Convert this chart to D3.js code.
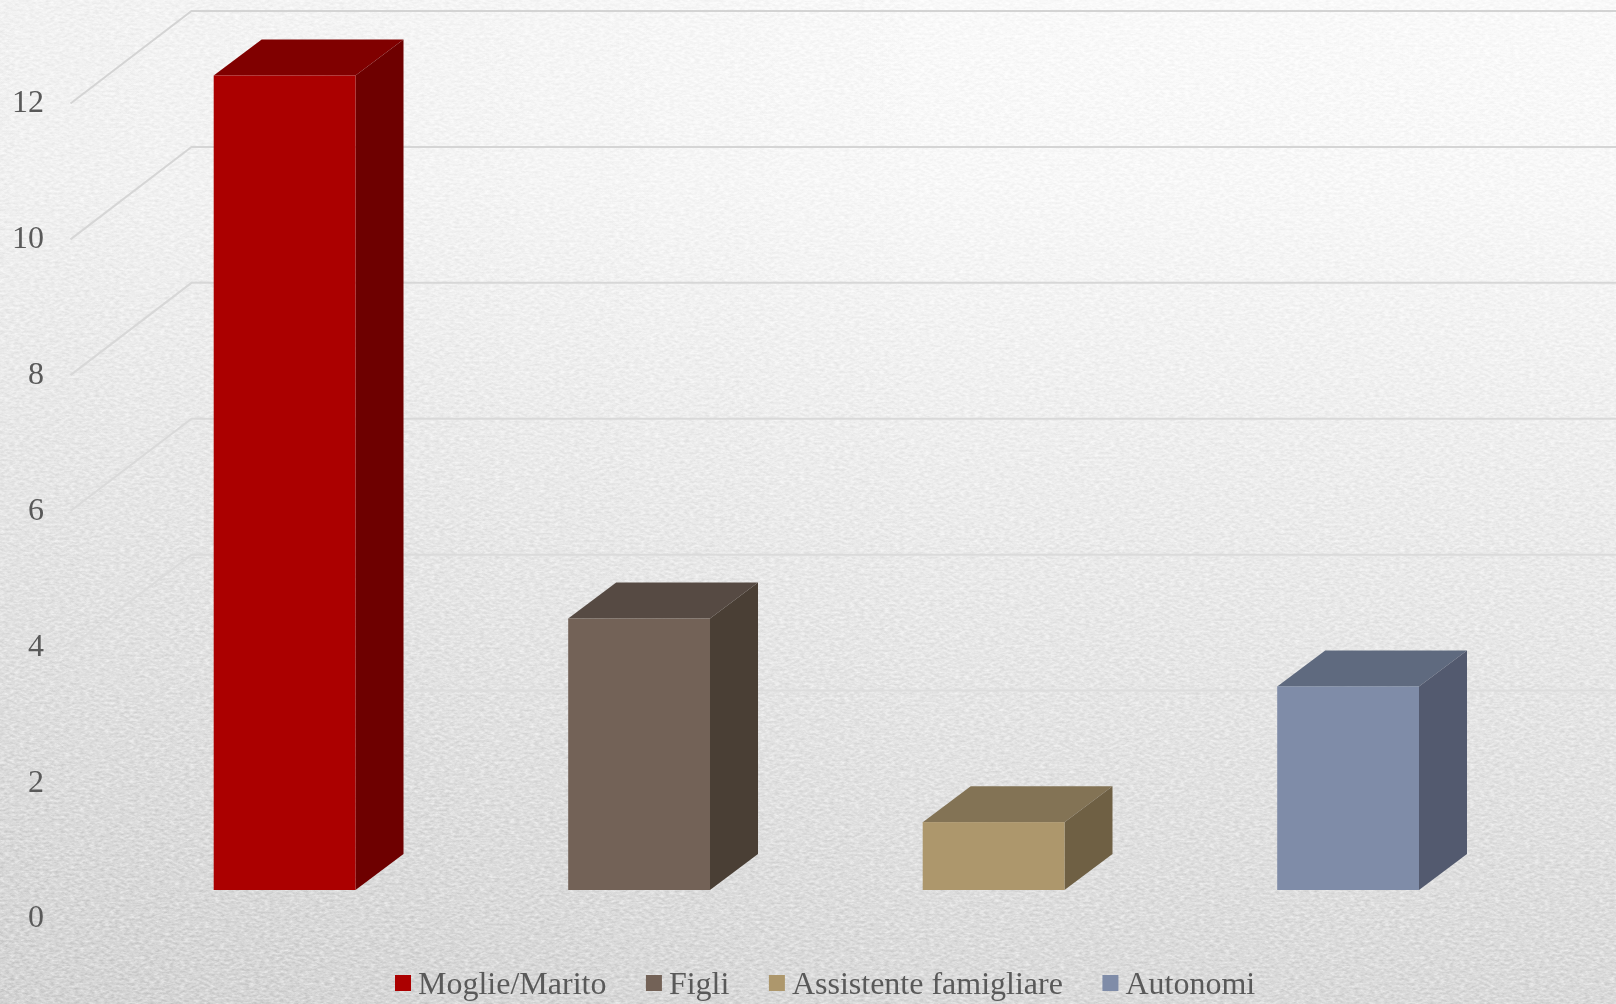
<!DOCTYPE html>
<html>
<head>
<meta charset="utf-8">
<script src="https://cdn.jsdelivr.net/npm/d3@7"></script>
<style>
  html, body { margin: 0; padding: 0; background: #e6e6e6; }
  svg { display: block; }
  text { font-family: "Liberation Serif", "Times New Roman", serif; fill: #595959; }
</style>
</head>
<body>
<svg id="chart" width="1616" height="1004"></svg>
<script>
// Caregiver categories and their counts
const categories = ["Moglie/Marito", "Figli", "Assistente famigliare", "Autonomi"];
const counts = [12, 4, 1, 3];
const yTicks = [0, 2, 4, 6, 8, 10, 12];

// Face shades per category
const frontColors = ["#ab0000", "#736257", "#ad976c", "#7f8ca8"];
const topColors = ["#800000", "#564a43", "#837355", "#5f6a7f"];
const sideColors = ["#6e0000", "#4a3f35", "#6f6044", "#535a6f"];

const W = 1616, H = 1004;
const svg = d3.select("#chart");
const defs = svg.append("defs");

// Page background: pale at the top, darker towards the floor
const bg = defs.append("linearGradient").attr("id", "bg")
  .attr("x1", 0).attr("y1", 0).attr("x2", 0).attr("y2", 1);
bg.append("stop").attr("offset", "0%").attr("stop-color", "#ffffff");
bg.append("stop").attr("offset", "18%").attr("stop-color", "#fefefe");
bg.append("stop").attr("offset", "42%").attr("stop-color", "#f5f5f5");
bg.append("stop").attr("offset", "70%").attr("stop-color", "#ebebeb");
bg.append("stop").attr("offset", "100%").attr("stop-color", "#dfdfdf");

// Slight shading towards the left edge
const leftShade = defs.append("linearGradient").attr("id", "leftShade");
leftShade.append("stop").attr("offset", "0%").attr("stop-color", "#000").attr("stop-opacity", 0.03);
leftShade.append("stop").attr("offset", "60%").attr("stop-color", "#000").attr("stop-opacity", 0);

// Gridlines lighten a little as they near the floor
const gridStroke = defs.append("linearGradient").attr("id", "gridStroke")
  .attr("gradientUnits", "userSpaceOnUse")
  .attr("x1", 0).attr("y1", 0).attr("x2", 0).attr("y2", 800);
gridStroke.append("stop").attr("offset", "0%").attr("stop-color", "#d3d3d3");
gridStroke.append("stop").attr("offset", "100%").attr("stop-color", "#dedede");

// Paper texture: soft grain stretched along the horizontal
const paper = defs.append("filter").attr("id", "paper")
  .attr("x", 0).attr("y", 0).attr("width", "100%").attr("height", "100%")
  .attr("color-interpolation-filters", "sRGB");
paper.append("feTurbulence")
  .attr("type", "fractalNoise").attr("baseFrequency", "0.2 0.42")
  .attr("numOctaves", 3).attr("seed", 7);
paper.append("feColorMatrix").attr("type", "matrix")
  .attr("values", "1.4 0 0 0 -0.2  1.4 0 0 0 -0.2  1.4 0 0 0 -0.2  0 0 0 0 1");

svg.append("rect").attr("width", W).attr("height", H).attr("fill", "url(#bg)");
svg.append("rect").attr("width", W).attr("height", H).attr("fill", "url(#leftShade)");
svg.append("rect").attr("width", W).attr("height", H)
  .attr("filter", "url(#paper)")
  .style("mix-blend-mode", "overlay").style("opacity", 0.4);
// A faint multiplied pass keeps the grain visible on the palest paper
svg.append("rect").attr("width", W).attr("height", H)
  .attr("filter", "url(#paper)")
  .style("mix-blend-mode", "multiply").style("opacity", 0.05);

// Value scales for the front edge of the floor, the back wall and the bars' front plane
const yFront = d3.scaleLinear().domain([0, 12]).range([918.5, 103.5]);
const yBack = d3.scaleLinear().domain([0, 12]).range([826.5, 11]);
const yBar = d3.scaleLinear().domain([0, 12]).range([890, 75.5]);

const x = d3.scaleBand().domain(categories)
  .range([107.35, 1525.35]).paddingInner(0.6).paddingOuter(0.3);

const wallLeft = 191.5, floorLeft = 70.5;
const depthX = 48, depthY = 36;

// Gridlines run along the side wall, then across the back wall
svg.append("g").attr("class", "grid")
  .selectAll("path").data(yTicks.filter(d => d > 0)).join("path")
  .attr("fill", "none").attr("stroke", "url(#gridStroke)").attr("stroke-width", 2)
  .attr("d", d => d3.line()([[floorLeft, yFront(d)], [wallLeft, yBack(d)], [W, yBack(d)]]));

// Value axis labels
svg.append("g").attr("class", "y-axis")
  .selectAll("text").data(yTicks).join("text")
  .attr("x", 44).attr("y", d => yFront(d) - 2).attr("dy", "0.34em")
  .attr("text-anchor", "end").attr("font-size", 32)
  .text(d => d);

// Three visible faces of each bar
const bars = svg.append("g").attr("class", "bars")
  .selectAll("g").data(categories.map((c, i) => ({ c, v: counts[i], i }))).join("g");

bars.append("path").attr("fill", d => topColors[d.i])
  .attr("d", d => {
    const l = x(d.c), r = l + x.bandwidth(), t = yBar(d.v);
    return d3.line()([[l, t], [l + depthX, t - depthY], [r + depthX, t - depthY], [r, t]]) + "Z";
  });
bars.append("path").attr("fill", d => sideColors[d.i])
  .attr("d", d => {
    const r = x(d.c) + x.bandwidth(), t = yBar(d.v), b = yBar(0);
    return d3.line()([[r, t], [r + depthX, t - depthY], [r + depthX, b - depthY], [r, b]]) + "Z";
  });
bars.append("rect").attr("fill", d => frontColors[d.i])
  .attr("x", d => x(d.c)).attr("y", d => yBar(d.v))
  .attr("width", x.bandwidth()).attr("height", d => yBar(0) - yBar(d.v));

// Legend along the bottom edge, laid out from measured label widths
const legend = svg.append("g").attr("class", "legend");
let cursor = 395;
categories.forEach((c, i) => {
  legend.append("rect").attr("x", cursor).attr("y", 975)
    .attr("width", 16).attr("height", 16).attr("fill", frontColors[i]);
  const label = legend.append("text").attr("x", cursor + 23).attr("y", 994)
    .attr("font-size", 32).text(c);
  cursor += 23 + label.node().getComputedTextLength() + 39.5;
});
</script>
</body>
</html>
